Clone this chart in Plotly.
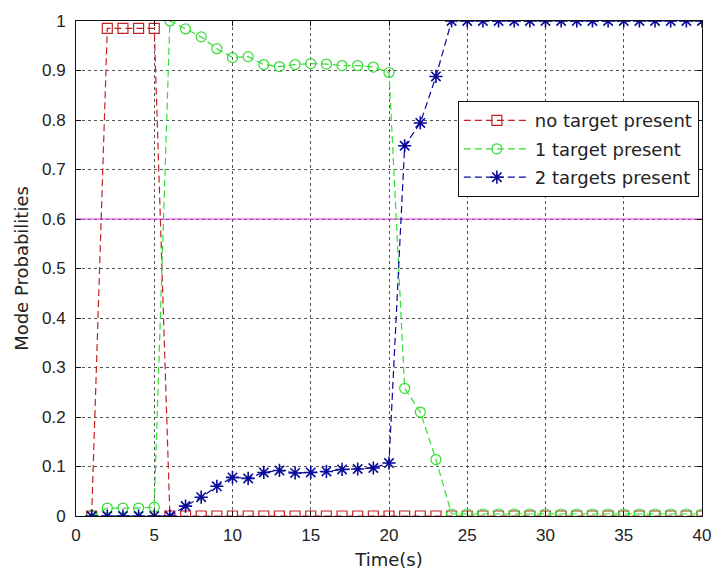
import plotly.graph_objects as go

# Time steps (s)
time_s = list(range(1, 41))

# Mode probabilities per time step
p_no_target = [0.0, 0.985, 0.985, 0.985, 0.985] + [0.0] * 35
p_one_target = [0.0, 0.016, 0.016, 0.016, 0.018, 1.0, 0.984, 0.968, 0.944, 0.926,
                0.928, 0.912, 0.908, 0.912, 0.914, 0.913, 0.91, 0.91, 0.907, 0.896,
                0.258, 0.21, 0.114] + [0.004] * 17
p_two_targets = [0.0, 0.0, 0.0, 0.0, 0.0, 0.0, 0.02, 0.038, 0.06, 0.078,
                 0.076, 0.088, 0.092, 0.087, 0.088, 0.09, 0.094, 0.095, 0.097, 0.107,
                 0.748, 0.794, 0.888] + [1.0] * 17

threshold = 0.6
x_range = [0, 40]

series = [
    ("no target present", p_no_target, "#c42222", "square-open", 10, 1.2),
    ("1 target present", p_one_target, "#33dd33", "circle-open", 10, 1.2),
    ("2 targets present", p_two_targets, "#0a0a9a", "asterisk-open", 11, 1.6),
]

title_font = dict(family="DejaVu Sans", size=18, color="#222")
tick_font = dict(family="Liberation Sans, Arial", size=17, color="#222")

fig = go.Figure()

# Decision threshold
fig.add_trace(go.Scatter(
    x=x_range, y=[threshold, threshold], mode="lines",
    line=dict(color="#e633e6", width=1.2), showlegend=False, hoverinfo="skip",
))

for i, (name, vals, color, symbol, size, mw) in enumerate(series):
    fig.add_trace(go.Scatter(
        x=time_s, y=vals, name=name, mode="lines+markers", legendgroup=f"g{i}",
        line=dict(color=color, width=1.2, dash="7px,4px"),
        marker=dict(symbol=symbol, size=size, color=color, line=dict(color=color, width=mw)),
    ))

axis_common = dict(
    showline=True, linecolor="#111", linewidth=1, mirror="ticks",
    ticks="inside", ticklen=5, tickcolor="#111",
    showgrid=True, gridcolor="#555", gridwidth=1, griddash="dot",
    zeroline=False, tickfont=tick_font,
)

fig.update_xaxes(range=x_range, dtick=5, tick0=0,
                 title=dict(text="Time(s)", font=title_font, standoff=8),
                 ticklabelstandoff=4, **axis_common)
fig.update_yaxes(range=[0, 1], dtick=0.1, tick0=0,
                 title=dict(text="Mode Probabilities", font=title_font, standoff=8),
                 ticklabelstandoff=6, **axis_common)

fig.update_layout(
    width=723, height=579,
    margin=dict(l=76, r=14, t=16, b=63),
    paper_bgcolor="white", plot_bgcolor="white",
    legend=dict(
        x=0.61, y=0.838, xanchor="left", yanchor="top",
        bgcolor="white", bordercolor="#111", borderwidth=1,
        font=dict(family="DejaVu Sans", size=18, color="#222"),
        tracegroupgap=2, itemwidth=66,
    ),
    showlegend=True,
)

fig.write_html("out.html")
